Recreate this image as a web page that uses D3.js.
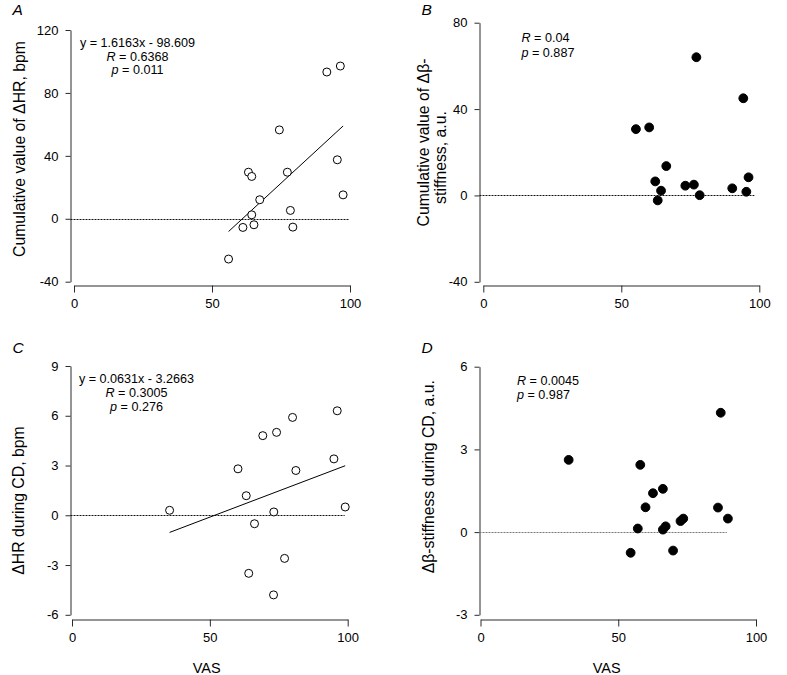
<!DOCTYPE html>
<html>
<head>
<meta charset="utf-8">
<script src="https://cdn.jsdelivr.net/npm/d3@7"></script>
<style>
  html, body { margin: 0; padding: 0; background: #fff; }
  svg { display: block; font-family: "Liberation Sans", Arial, sans-serif; }
</style>
</head>
<body>
<script>
// ---------------- DATA ----------------
const xTicks = [0, 50, 100];

// Panel A: VAS vs cumulative ΔHR (bpm)
const vasA   = [56.0, 61.2, 63.2, 64.4, 64.4, 65.2, 67.3, 74.4, 77.3, 78.4, 79.3, 91.6, 95.4, 96.5, 97.5];
const hrCumA = [-25.6, -5.5, 29.6, 26.9, 2.5, -3.8, 12.1, 56.5, 29.6, 5.3, -5.3, 93.3, 37.5, 97.1, 15.2];
const yTicksA = [-40, 0, 40, 80, 120];
const fitA = { slope: 1.6163, intercept: -98.609 };
const statsA = ["y = 1.6163x - 98.609", "0.6368", "0.011"];

// Panel B: VAS vs cumulative Δβ-stiffness (a.u.)
const vasB      = [55.3, 60.1, 62.3, 64.4, 63.2, 66.3, 73.2, 76.3, 77.2, 78.4, 90.2, 94.2, 95.3, 96.1];
const stiffCumB = [30.7, 31.5, 6.5, 2.2, -2.3, 13.6, 4.5, 5.0, 64.0, 0.1, 3.3, 45.0, 1.7, 8.4];
const yTicksB = [-40, 0, 40, 80];
const statsB = ["0.04", "0.887"];

// Panel C: VAS vs ΔHR during CD (bpm)
const vasC  = [35.4, 60.2, 63.2, 64.1, 66.2, 69.2, 73.2, 74.2, 73.1, 77.1, 80.0, 81.2, 95.0, 96.2, 99.1];
const hrCdC = [0.30, 2.8, 1.18, -3.5, -0.51, 4.8, 0.2, 5.0, -4.8, -2.6, 5.9, 2.7, 3.4, 6.3, 0.5];
const yTicksC = [-6, -3, 0, 3, 6, 9];
const fitC = { slope: 0.0631, intercept: -3.2663 };
const statsC = ["y = 0.0631x - 3.2663", "0.3005", "0.276"];

// Panel D: VAS vs Δβ-stiffness during CD (a.u.)
const vasD     = [32.0, 58.0, 54.5, 57.1, 59.9, 62.6, 66.2, 66.2, 67.2, 69.9, 72.6, 73.6, 86.2, 87.2, 89.8];
const stiffCdD = [2.62, 2.44, -0.75, 0.13, 0.90, 1.41, 1.57, 0.09, 0.21, -0.67, 0.40, 0.49, 0.89, 4.33, 0.49];
const yTicksD = [-3, 0, 3, 6];
const statsD = ["0.0045", "0.987"];

// reference (zero) line end, in VAS units
const zeroEnds = [99.6, 98.2, 98.9, 89.4];

// ---------------- DRAW ----------------
const W = 787, H = 675;
const FONT = '"Liberation Sans", Arial, sans-serif';
const svg = d3.select("body").append("svg").attr("width", W).attr("height", H);

const panels = [
  { letter: "A", lx: 12.5, ly: 15, vas: vasA, val: hrCumA, yTicks: yTicksA, fit: fitA, filled: false, zeroEnd: zeroEnds[0],
    x0: 74, x1: 350, xAxisY: 285.5, yAxisX: 70.5, yTop: 30, yBot: 281.7,
    ylab: [{ t: "Cumulative value of \u0394HR, bpm", cx: 19, cy: 149 }],
    stats: { type: "fit", lines: statsA, cx: 137.5, b: [46.7, 60.5, 74] }, zeroColor: "#111" },
  { letter: "B", lx: 421.5, ly: 15, vas: vasB, val: stiffCumB, yTicks: yTicksB, fit: null, filled: true, zeroEnd: zeroEnds[1],
    x0: 483.3, x1: 759.3, xAxisY: 285.5, yAxisX: 479.5, yTop: 22.7, yBot: 281.8,
    ylab: [{ t: "Cumulative value of \u0394\u03b2-", cx: 423, cy: 142.5 }, { t: "stiffness, a.u.", cx: 440, cy: 157.5 }],
    stats: { type: "rp", lines: statsB, lx: 521.5, b: [41.7, 56.8] }, zeroColor: "#111" },
  { letter: "C", lx: 12.5, ly: 352.8, vas: vasC, val: hrCdC, yTicks: yTicksC, fit: fitC, filled: false, zeroEnd: zeroEnds[2],
    x0: 72, x1: 347.7, xAxisY: 619.5, yAxisX: 70.5, yTop: 366, yBot: 614.8,
    ylab: [{ t: "\u0394HR during CD, bpm", cx: 18, cy: 500.5 }],
    stats: { type: "fit", lines: statsC, cx: 136.5, b: [382.7, 396.7, 410.7] }, zeroColor: "#111",
    xlab: { cx: 206.7, b: 672.5 } },
  { letter: "D", lx: 421.5, ly: 352.8, vas: vasD, val: stiffCdD, yTicks: yTicksD, fit: null, filled: true, zeroEnd: zeroEnds[3],
    x0: 480.5, x1: 756, xAxisY: 619.5, yAxisX: 479.5, yTop: 366.7, yBot: 614.8,
    ylab: [{ t: "\u0394\u03b2-stiffness during CD, a.u.", cx: 428.3, cy: 476.7 }],
    stats: { type: "rp", lines: statsD, lx: 517, b: [385.3, 399.3] }, zeroColor: "#777",
    xlab: { cx: 606.7, b: 672.5 } }
];

function drawPanel(p) {
  const x = d3.scaleLinear().domain([0, 100]).range([p.x0, p.x1]);
  const y = d3.scaleLinear().domain(d3.extent(p.yTicks)).range([p.yBot, p.yTop]);
  const g = svg.append("g");

  // Y axis
  const ya = g.append("g").attr("transform", `translate(${p.yAxisX},0)`)
    .call(d3.axisLeft(y).tickValues(p.yTicks).tickSize(5).tickSizeOuter(0).tickPadding(7).tickFormat(d => String(d)));
  // X axis
  const xa = g.append("g").attr("transform", `translate(0,${p.xAxisY})`)
    .call(d3.axisBottom(x).tickValues(xTicks).tickSize(7).tickSizeOuter(0).tickPadding(6).tickFormat(d => String(d)));
  [ya, xa].forEach(a => {
    a.attr("font-family", FONT).attr("font-size", 13);
    a.selectAll("path,line").attr("stroke", "#2a2a2a").attr("stroke-width", 1);
    a.selectAll("text").attr("fill", "#000");
  });

  // zero reference line
  g.append("line")
    .attr("x1", p.yAxisX).attr("x2", x(p.zeroEnd))
    .attr("y1", Math.round(y(0)) + 0.5).attr("y2", Math.round(y(0)) + 0.5)
    .attr("stroke", p.zeroColor).attr("stroke-width", 1).attr("stroke-dasharray", "2,1");

  // regression line
  if (p.fit) {
    const [xmin, xmax] = d3.extent(p.vas);
    g.append("line")
      .attr("x1", x(xmin)).attr("y1", y(p.fit.slope * xmin + p.fit.intercept))
      .attr("x2", x(xmax)).attr("y2", y(p.fit.slope * xmax + p.fit.intercept))
      .attr("stroke", "#000").attr("stroke-width", 1);
  }

  // points
  const pts = p.vas.map((v, i) => [v, p.val[i]]);
  g.selectAll("circle.pt").data(pts).join("circle").attr("class", "pt")
    .attr("cx", d => x(d[0])).attr("cy", d => y(d[1]))
    .attr("r", p.filled ? 4.4 : 4)
    .attr("fill", p.filled ? "#000" : "#fff")
    .attr("stroke", "#000").attr("stroke-width", 1);

  // panel letter
  svg.append("text").attr("x", p.lx).attr("y", p.ly)
    .attr("font-family", FONT).attr("font-size", 15.5).attr("font-style", "italic")
    .text(p.letter);

  // y label
  p.ylab.forEach(l => {
    svg.append("text")
      .attr("transform", `translate(${l.cx},${l.cy}) rotate(-90)`)
      .attr("text-anchor", "middle").attr("dominant-baseline", "central")
      .attr("font-family", FONT).attr("font-size", 15.8)
      .text(l.t);
  });

  // x label
  if (p.xlab) {
    svg.append("text").attr("x", p.xlab.cx).attr("y", p.xlab.b)
      .attr("text-anchor", "middle")
      .attr("font-family", FONT).attr("font-size", 14.5).text("VAS");
  }

  // stats annotation
  const s = p.stats;
  if (s.type === "fit") {
    svg.append("text").attr("x", s.cx).attr("y", s.b[0]).attr("text-anchor", "middle")
      .attr("font-family", FONT).attr("font-size", 12.6).text(s.lines[0]);
    const t1 = svg.append("text").attr("x", s.cx).attr("y", s.b[1]).attr("text-anchor", "middle")
      .attr("font-family", FONT).attr("font-size", 12.6);
    t1.append("tspan").attr("font-style", "italic").text("R");
    t1.append("tspan").text(" = " + s.lines[1]);
    const t2 = svg.append("text").attr("x", s.cx).attr("y", s.b[2]).attr("text-anchor", "middle")
      .attr("font-family", FONT).attr("font-size", 12.6);
    t2.append("tspan").attr("font-style", "italic").text("p");
    t2.append("tspan").text(" = " + s.lines[2]);
  } else {
    const t1 = svg.append("text").attr("x", s.lx).attr("y", s.b[0])
      .attr("font-family", FONT).attr("font-size", 12.6);
    t1.append("tspan").attr("font-style", "italic").text("R");
    t1.append("tspan").text(" = " + s.lines[0]);
    const t2 = svg.append("text").attr("x", s.lx).attr("y", s.b[1])
      .attr("font-family", FONT).attr("font-size", 12.6);
    t2.append("tspan").attr("font-style", "italic").text("p");
    t2.append("tspan").text(" = " + s.lines[1]);
  }
}

panels.forEach(drawPanel);
</script>
</body>
</html>
